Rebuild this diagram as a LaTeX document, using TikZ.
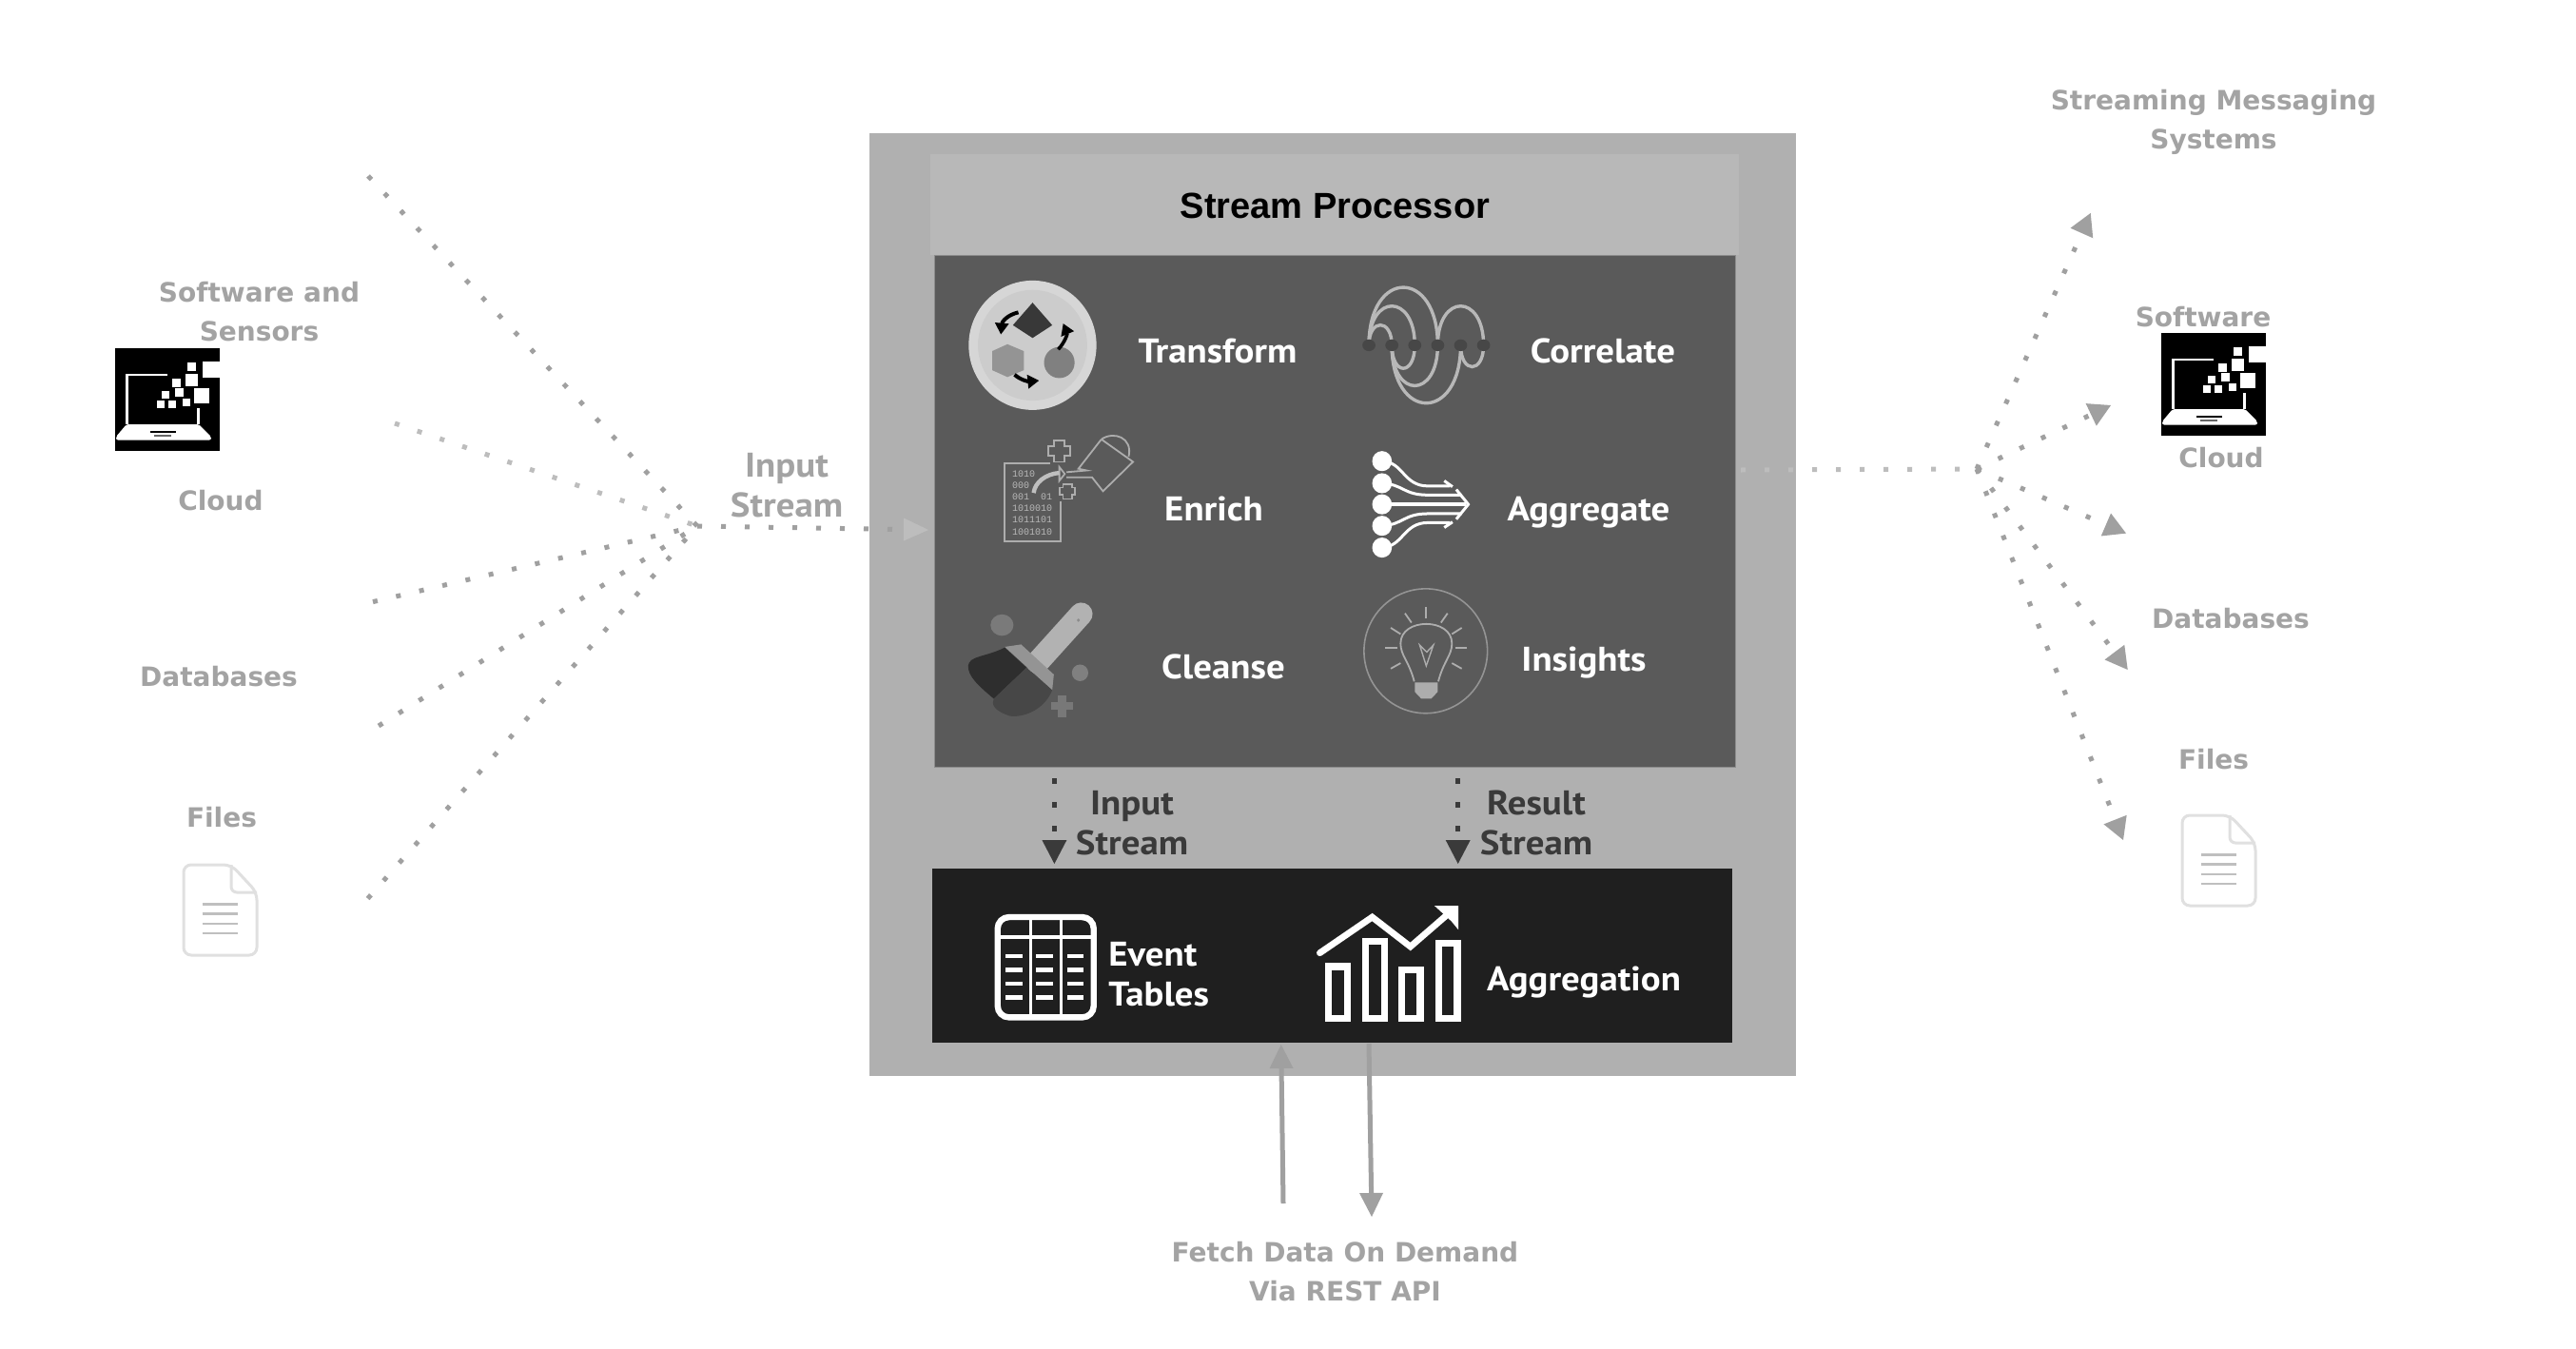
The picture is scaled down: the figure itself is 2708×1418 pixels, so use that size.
\documentclass[tikz,border=0pt]{standalone}
\usepackage{fontspec}
\usetikzlibrary{arrows.meta}
\setmainfont{DejaVu Sans}
\newfontfamily\innerfont[FakeStretch=1.08]{PT Sans}
\newfontfamily\headfont{Liberation Sans}
\newfontfamily\digitfont{Liberation Mono}
\definecolor{boxgrey}{HTML}{B0B0B0}
\definecolor{headgrey}{HTML}{B8B8B8}
\definecolor{panelgrey}{HTML}{5A5A5A}
\definecolor{tablegrey}{HTML}{1F1F1F}
\definecolor{labelgrey}{HTML}{A3A3A3}
\definecolor{dotgrey}{HTML}{A0A0A0}
\definecolor{palegrey}{HTML}{BDBDBD}
\definecolor{inktext}{HTML}{3A3A3A}
\tikzset{
  outerlabel/.style={text=labelgrey,font={\fontsize{14}{20.5}\selectfont\bfseries},align=center,inner sep=0pt},
  midlabel/.style={text=labelgrey,font={\innerfont\fontsize{18}{20.7}\selectfont\bfseries},align=center,inner sep=0pt},
  whitelabel/.style={text=white,font={\innerfont\fontsize{18}{20.7}\selectfont\bfseries},align=center,inner sep=0pt},
  inklabel/.style={text=inktext,font={\innerfont\fontsize{18}{20.7}\selectfont\bfseries},align=center,inner sep=0pt},
  dotline/.style={draw=dotgrey,line width=2.5pt,dash pattern=on 2.5pt off 10pt},
  paledot/.style={dotline,draw=palegrey},
  fantip/.style={-{Triangle[length=11.5pt,width=13pt,color=dotgrey,fill=dotgrey,line width=0pt]}},
  inkdot/.style={draw=inktext,line width=2.5pt,dash pattern=on 3pt off 9.5pt,-{Triangle[length=12.5pt,width=13pt,color=inktext,fill=inktext,line width=0pt]}},
  solidarrow/.style={draw=dotgrey,line width=2.5pt,-{Triangle[length=12.5pt,width=12.5pt,color=dotgrey,fill=dotgrey,line width=0pt]}},
  zoneA/.style={shift={(950,260)},x=0.287pt,y=-0.1818pt},
  zoneB/.style={shift={(950,800)},x=0.287pt,y=-0.1667pt},
}
\newcommand{\laptopicon}[2]{%
  \begin{scope}[shift={(#1,#2)}]
    \fill[black] (0,0) rectangle (110,108);
    \fill[white] (92,14) rectangle (110,31);
    \draw[white,line width=1.2pt] (55,28) -- (12.5,28) -- (12.5,80);
    \draw[white,line width=1.2pt] (87.5,63) -- (87.5,80);
    \fill[white,rounded corners=1pt] (12,80) -- (88,80) -- (101,93) -- (101,96.5) -- (1,96.5) -- (1,93) -- cycle;
    \draw[black,line width=.8pt] (37,88) -- (64,88);
    \draw[black!60,line width=.8pt] (41,92) -- (59,92);
    \foreach \cx/\cy/\cs in {80.4/19.4/9,80/33/13,64/36/9,52.7/49/8,67/46/9,90.6/50/16,48/59/8,60/59/8,75.4/57/8}
      \fill[white] (\cx-\cs/2,\cy-\cs/2) rectangle (\cx+\cs/2,\cy+\cs/2);
  \end{scope}}
\newcommand{\fileicon}[2]{%
  \begin{scope}[shift={(#1,#2)}]
    \draw[draw=black!12,fill=white,line width=1.5pt,rounded corners=4pt] (0,0) -- (50,0) -- (77,29) -- (77,95) -- (0,95) -- cycle;
    \draw[draw=black!12,line width=1.5pt,rounded corners=3pt] (50,0) -- (50,29) -- (77,29);
    \foreach \ly in {41.5,51.5,62,72}
      \draw[draw=black!25,line width=1.1pt] (19.5,\ly) -- (57,\ly);
  \end{scope}}
\begin{document}
\begin{tikzpicture}[x=0.5pt,y=-0.5pt]
\useasboundingbox (0,0) rectangle (2708,1418);
\fill[white] (0,0) rectangle (2708,1418);

% main panels
\node[draw=none,fill=boxgrey,minimum width=487pt,minimum height=495.5pt,inner sep=0pt,anchor=north west] (outer) at (913.5,140) {};
\node[draw=none,fill=headgrey,minimum width=425pt,minimum height=53pt,inner sep=0pt,anchor=north west] (head) at (977.5,162) {};
\node[draw=black!45,line width=.4pt,fill=panelgrey,minimum width=421pt,minimum height=269pt,inner sep=0pt,anchor=north west] (panel) at (982,268) {};
\node[draw=none,fill=tablegrey,minimum width=420.5pt,minimum height=91.5pt,inner sep=0pt,anchor=north west] (tables) at (980,913) {};
\node[text=black,font={\headfont\fontsize{19}{24}\selectfont\bfseries},inner sep=0pt] (title) at (1403.5,216) {Stream Processor};

% labels
\node[outerlabel] (lsoft) at (272.5,328) {Software and\\Sensors};
\node[outerlabel] (lcloud) at (232,526) {Cloud};
\node[outerlabel] (ldb) at (230,711) {Databases};
\node[outerlabel] (lfiles) at (233,859) {Files};
\node[midlabel] (lin) at (827,510) {Input\\Stream};
\node[outerlabel] (rstream) at (2327,128) {Streaming Messaging\\Systems};
\node[outerlabel] (rsoft) at (2316,333) {Software};
\node[outerlabel] (rcloud) at (2335,481) {Cloud};
\node[outerlabel] (rdb) at (2345,650) {Databases};
\node[outerlabel] (rfiles) at (2327,798) {Files};
\node[outerlabel] (fetch) at (1414,1337) {Fetch Data On Demand\\Via REST API};
\node[whitelabel] (ttrans) at (1280,369) {Transform};
\node[whitelabel] (tcorr) at (1685,369) {Correlate};
\node[whitelabel] (tenr) at (1276,535) {Enrich};
\node[whitelabel] (tagg) at (1670,539) {Aggregate};
\node[whitelabel] (tclean) at (1286,701) {Cleanse};
\node[whitelabel] (tins) at (1665,697) {Insights};
\node[inklabel] (binput) at (1190,865) {Input\\Stream};
\node[inklabel] (bresult) at (1615,865) {Result\\Stream};
\node[whitelabel,align=left,anchor=west] (tevent) at (1165,1024) {Event\\Tables};
\node[whitelabel] (tagn) at (1665,1033) {Aggregation};

% connector end points
\coordinate (lhub) at (733,553);
\coordinate (l1) at (387,185);
\coordinate (l2) at (415,445);
\coordinate (l3) at (392,632.6);
\coordinate (l4) at (398,763);
\coordinate (l5) at (386.6,944.5);
\coordinate (lend) at (976,557);
\coordinate (rstart) at (1830,494);
\coordinate (rhub) at (2078,493);
\coordinate (r1) at (2197.7,224);
\coordinate (r2) at (2219,426);
\coordinate (r3) at (2235,560.6);
\coordinate (r4) at (2236.7,704);
\coordinate (r5) at (2232,883);
\coordinate (ia) at (1108.4,818);
\coordinate (ib) at (1108.4,908);
\coordinate (ra) at (1532.7,818);
\coordinate (rb) at (1532.7,908);
\coordinate (ua) at (1349,1265);
\coordinate (ub) at (1346.7,1098);
\coordinate (da) at (1439,1097);
\coordinate (db) at (1442,1279);

% left fan
\draw[dotline] (l1) -- (lhub);
\draw[paledot] (l2) -- (lhub);
\draw[dotline] (l3) -- (lhub);
\draw[dotline] (l4) -- (lhub);
\draw[dotline] (l5) -- (lhub);
\draw[dotline,-{Triangle[length=13pt,width=12pt,color=palegrey,fill=palegrey,line width=0pt]}] (lhub) -- (lend);
% right fan
\draw[paledot] (rstart) -- (rhub);
\draw[dotline,fantip] (rhub) -- (r1);
\draw[dotline,fantip] (rhub) -- (r2);
\draw[dotline,fantip] (rhub) -- (r3);
\draw[dotline,fantip] (rhub) -- (r4);
\draw[dotline,fantip] (rhub) -- (r5);
% inner connectors
\draw[inkdot] (ia) -- (ib);
\draw[inkdot] (ra) -- (rb);
\draw[solidarrow] (ua) -- (ub);
\draw[solidarrow] (da) -- (db);

% side icons
\laptopicon{121}{366}
\laptopicon{2272}{350}
\fileicon{193}{909}
\fileicon{2294}{857}

% Transform icon
\begin{scope}[zoneA]
  \fill[black!16] (236,283) ellipse [x radius=117,y radius=187];
  \fill[black!20] (236,283) ellipse [x radius=100,y radius=160];
  \fill[black!78] (236,160) -- (272,225) -- (236,262) -- (200,225) -- cycle;
  \fill[black!42] (190,280) -- (220,300) -- (220,355) -- (190,375) -- (162,355) -- (162,300) -- cycle;
  \fill[black!50] (285,333) ellipse [x radius=28,y radius=45];
  \draw[black,line width=2pt,-{Triangle[length=6pt,width=7pt]}] (210,188) .. controls (190,195) and (180,215) .. (178,252);
  \draw[black,line width=1.8pt,-{Triangle[length=6pt,width=7pt]}] (283,295) .. controls (295,275) and (300,250) .. (292,220);
  \draw[black,line width=2pt,-{Triangle[length=6pt,width=7pt]}] (203,368) .. controls (215,385) and (230,388) .. (248,385);
  % Correlate icon
  \begin{scope}[draw=black!28,line width=1.7pt]
    \draw (852,283) .. controls (852,60) and (978,60) .. (978,283);
    \draw (852,283) .. controls (852,132) and (936,132) .. (936,283);
    \draw (852,283) .. controls (852,205) and (894,205) .. (894,283);
    \draw (978,283) .. controls (978,132) and (1062,132) .. (1062,283);
    \draw (894,283) .. controls (894,506) and (1020,506) .. (1020,283);
    \draw (894,283) .. controls (894,439) and (978,439) .. (978,283);
    \draw (894,283) .. controls (894,372) and (936,372) .. (936,283);
    \draw (1020,283) .. controls (1020,366) and (1062,366) .. (1062,283);
  \end{scope}
  \foreach \dx in {852,894,936,978,1020,1062}
    \fill[black!72] (\dx,283) ellipse [x radius=12,y radius=17];
  % Enrich icon
  \draw[black!32,line width=.9pt] (268,625) -- (185,625) -- (185,850) -- (287,850) -- (287,735);
  \foreach \dy/\dt in {655/1010,688/000,722/{001\ \ 01},755/1010010,788/1011101,822/1001010}
    \node[anchor=west,text=black!28,font={\digitfont\fontsize{5}{5}\selectfont},inner sep=0pt] at (198,\dy) {\dt};
  \draw[black!32,line width=.9pt] (275,558) -- (295,558) -- (295,575) -- (305,575) -- (305,602) -- (295,602) -- (295,620) -- (275,620) -- (275,602) -- (265,602) -- (265,575) -- (275,575) -- cycle;
  \draw[black!32,line width=.8pt] (292,685) -- (308,685) -- (308,695) -- (314,695) -- (314,715) -- (308,715) -- (308,727) -- (292,727) -- (292,715) -- (286,715) -- (286,695) -- (292,695) -- cycle;
  \draw[black!32,line width=.9pt] (362,555) -- (420,620) -- (365,705) -- (345,665) -- (298,665);
  \draw[black!32,line width=.9pt] (298,650) -- (335,645) -- (320,640) -- (362,555);
  \draw[black!32,line width=.9pt] (362,555) .. controls (385,530) and (420,550) .. (412,605);
  \draw[black!32,line width=.9pt] (285,635) -- (295,655) -- (285,675) -- cycle;
  \draw[black!25,line width=2.2pt] (238,710) .. controls (240,680) and (260,655) .. (285,652);
  % Aggregate icon
  \foreach \cy in {618,682,743,805,868}
    \fill[white] (876,\cy) ellipse [x radius=18,y radius=29];
  \begin{scope}[draw=white,line width=1.5pt]
    \draw (876,618) .. controls (915,620) and (915,690) .. (960,690) -- (1000,690);
    \draw (876,682) .. controls (915,685) and (915,716) .. (960,716) -- (1022,716);
    \draw[line width=2.2pt] (876,743) -- (1030,743);
    \draw (876,805) .. controls (915,802) and (915,770) .. (960,770) -- (1022,770);
    \draw (876,868) .. controls (915,865) and (915,796) .. (960,796) -- (1000,796);
    \draw (990,675) -- (1005,692);
    \draw (990,810) -- (1005,794);
    \draw (1012,700) -- (1034,743) -- (1012,786);
  \end{scope}
  % Cleanse icon
  \fill[black!52] (180,1092) ellipse [x radius=21,y radius=31];
  \fill[black!50] (323,1230) ellipse [x radius=15,y radius=24];
  \fill[black!53] (282,1295) rectangle (298,1358);
  \fill[black!53] (270,1315) rectangle (310,1338);
  \draw[black!30,line width=12pt,line cap=round] (245,1200) -- (325,1060);
  \fill[black!45] (320,1078) ellipse [x radius=3,y radius=5];
  \fill[black!42] (185,1155) -- (215,1148) -- (275,1235) -- (272,1280) -- cycle;
  \fill[black!82] (185,1157) -- (225,1215) -- (165,1305) .. controls (135,1265) and (118,1240) .. (118,1210) .. controls (120,1180) and (150,1185) .. (185,1157);
  \fill[black!72] (225,1215) -- (272,1280) .. controls (260,1330) and (225,1360) .. (195,1355) .. controls (165,1340) and (160,1320) .. (165,1305) -- cycle;
  % Insights icon
  \draw[black!42,line width=.8pt] (956,1167) ellipse [x radius=113,y radius=180];
  \draw[black!32,line width=.9pt] (935,1255) .. controls (925,1195) and (910,1180) .. (910,1145) .. controls (910,1070) and (1004,1070) .. (1004,1145) .. controls (1004,1180) and (989,1195) .. (979,1255);
  \draw[black!32,line width=.7pt] (945,1150) -- (957,1210) -- (970,1150) -- (958,1170) -- cycle;
  \fill[black!32] (936,1258) -- (978,1258) -- (978,1285) -- (966,1305) -- (948,1305) -- (936,1285) -- cycle;
  \foreach \ax/\ay/\bx/\by in {957/1040/957/1072,918/1058/930/1085,996/1058/984/1085,892/1100/910/1118,1022/1100/1004/1118,882/1158/904/1158,1032/1158/1010/1158,892/1218/910/1202,1022/1218/1004/1202}
    \draw[black!32,line width=.9pt] (\ax,\ay) -- (\bx,\by);
\end{scope}

% Event table and aggregation icons
\begin{scope}[zoneB]
  \draw[white,line width=3.2pt,rounded corners=6pt] (172,492) rectangle (348,808);
  \draw[white,line width=1.4pt] (232,490) -- (232,810);
  \draw[white,line width=1.4pt] (288,490) -- (288,810);
  \draw[white,line width=2pt] (170,556) -- (350,556);
  \foreach \ty in {615,658,702,745}
    \foreach \tx in {187,243,300}
      \draw[white,line width=2.2pt] (\tx,\ty) -- (\tx+30,\ty);
  \draw[white,line width=3.6pt] (778,648) rectangle (812,812);
  \draw[white,line width=3.6pt] (846,568) rectangle (880,812);
  \draw[white,line width=3.6pt] (912,658) rectangle (946,812);
  \draw[white,line width=3.6pt] (980,574) rectangle (1014,812);
  \draw[white,line width=3.4pt,line cap=round] (762,605) -- (858,492) -- (928,585) -- (1005,470);
  \fill[white] (972,456) -- (1016,456) -- (1016,532) -- (1003,505) -- cycle;
\end{scope}
\end{tikzpicture}
\end{document}
